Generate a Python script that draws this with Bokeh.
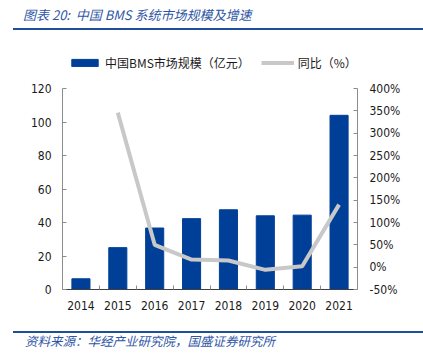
from bokeh.plotting import figure
from bokeh.layouts import column
from bokeh.models import (Range1d, LinearAxis, FixedTicker, PrintfTickFormatter,
                          Legend, LegendItem, Div, ColumnDataSource)
from bokeh.embed import file_html
from bokeh.resources import INLINE

years = ["2014", "2015", "2016", "2017", "2018", "2019", "2020", "2021"]
market_size = [6.4, 25.0, 36.7, 42.3, 47.6, 44.0, 44.4, 104.0]   # 亿元
yoy_years = ["2015", "2016", "2017", "2018", "2019", "2020", "2021"]
yoy_pct = [346, 50, 17, 15, -6, 2, 140]                          # %
left_ticks = [0, 20, 40, 60, 80, 100, 120]
right_ticks = [-50, 0, 50, 100, 150, 200, 250, 300, 350, 400]
title_text = "图表 20:&nbsp; 中国 BMS 系统市场规模及增速"
source_text = "资料来源：华经产业研究院，国盛证券研究所"

BLUE = "#003F98"
GRAY = "#C8C8C8"
AXIS = "#8C8C8C"
TXT = "#1A1A1A"
TITLE_BLUE = "#2F56A6"
RULE = "#1F4E9A"
TICK_FONT = "Tahoma, 'DejaVu Sans Condensed', 'DejaVu Sans', sans-serif"
CJK = "Noto Sans CJK SC"

xi = list(range(len(years)))
xl = [years.index(y) for y in yoy_years]
bar_src = ColumnDataSource(dict(x=xi, v=market_size))
line_src = ColumnDataSource(dict(x=xl, v=yoy_pct))

# frame: top canvas y=55 (legend lives inside), 120 -> y=88, 0 -> y=289
FH = 234.0
ymax = 120 * FH / 201.0
pmax = -50 + 450 * FH / 201.0

p = figure(width=423, height=301, output_backend="svg", toolbar_location=None,
           x_range=Range1d(-0.5, len(years) - 0.5), y_range=Range1d(0, ymax),
           min_border_left=62, min_border_right=66, min_border_top=25, min_border_bottom=42,
           background_fill_color="white", border_fill_color="white")
p.outline_line_color = None
p.grid.grid_line_color = None
p.extra_y_ranges = {"pct": Range1d(-50, pmax)}

bars = p.vbar(x="x", top="v", width=0.49, source=bar_src, fill_color=BLUE, line_color=BLUE)
line = p.line(x="x", y="v", source=line_src, y_range_name="pct", line_color=GRAY, line_width=4)

xt = FixedTicker(ticks=xi, minor_ticks=[i + 0.5 for i in xi[:-1]])
p.xaxis.ticker = xt
p.xaxis.major_label_overrides = {i: y for i, y in zip(xi, years)}
p.xaxis.major_tick_in = 0
p.xaxis.major_tick_out = 0
p.xaxis.minor_tick_in = 4
p.xaxis.minor_tick_out = 0
p.xaxis.minor_tick_line_color = AXIS
p.xaxis.axis_line_color = "#404040"
p.xaxis.major_label_standoff = 11

p.yaxis.ticker = FixedTicker(ticks=left_ticks)
p.yaxis.bounds = (0, 120)
p.yaxis.major_tick_in = 4
p.yaxis.major_tick_out = 0
p.yaxis.minor_tick_line_color = None
p.yaxis.major_label_standoff = 11

ra = LinearAxis(y_range_name="pct", ticker=FixedTicker(ticks=right_ticks),
                formatter=PrintfTickFormatter(format="%d%%"), bounds=(-50, 400))
ra.major_tick_in = 4
ra.major_tick_out = 0
ra.minor_tick_line_color = None
ra.major_label_standoff = 12
p.add_layout(ra, "right")

for ax in [p.xaxis[0], p.yaxis[0], ra]:
    ax.major_label_text_font = TICK_FONT
    ax.major_label_text_font_size = "12px"
    ax.major_label_text_color = TXT
    ax.major_tick_line_color = AXIS
    if ax is not p.xaxis[0]:
        ax.axis_line_color = AXIS

legend = Legend(items=[LegendItem(label="中国BMS市场规模（亿元）", renderers=[bars]),
                       LegendItem(label="同比（%）", renderers=[line])],
                orientation="horizontal", location=(6, 218),
                glyph_width=33, glyph_height=9, label_standoff=4, spacing=11,
                padding=0, margin=0, border_line_color=None, background_fill_alpha=0,
                label_text_font=CJK, label_text_font_size="12px", label_text_color=TXT,
                label_height=12)
p.add_layout(legend, "center")

title = Div(text=title_text, width=408, height=28, margin=(0, 2, 0, 13),
            styles={"border-bottom": f"2px solid {RULE}", "box-sizing": "content-box",
                    "font-family": CJK, "font-style": "italic", "font-size": "13px",
                    "color": TITLE_BLUE, "padding-left": "10px", "line-height": "30px",
                    "white-space": "nowrap"})
source = Div(text=source_text, width=408, height=24, margin=(0, 2, 0, 13),
             styles={"border-top": f"2px solid {RULE}", "box-sizing": "content-box",
                     "font-family": CJK, "font-style": "italic", "font-size": "12.5px",
                     "color": TITLE_BLUE, "padding-left": "12px", "line-height": "16px",
                     "white-space": "nowrap"})

layout = column(title, p, source, spacing=0)
open("out.html", "w").write(file_html(layout, INLINE))
